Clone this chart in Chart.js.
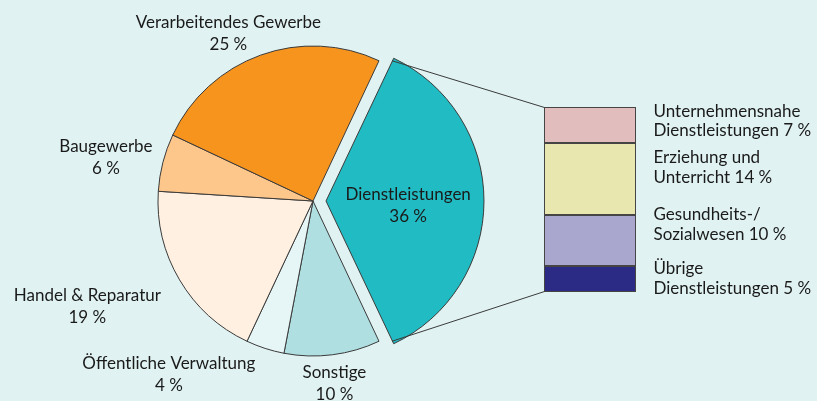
<!DOCTYPE html>
<html lang="de">
<head>
<meta charset="utf-8">
<script src="https://cdn.jsdelivr.net/npm/chart.js@4.4.1/dist/chart.umd.min.js"></script>
<style>
  html, body { margin: 0; padding: 0; background: #e0f2f2; }
  #wrap { position: relative; width: 817px; height: 401px; background: #e0f2f2; overflow: hidden; }
  #wrap canvas { position: absolute; left: 0; top: 0; }
</style>
</head>
<body>
<div id="wrap">
  <canvas id="pieChart" width="817" height="401"></canvas>
  <canvas id="barChart" width="817" height="401"></canvas>
</div>
<script>
// Anteile nach Wirtschaftsbereichen (Uhrzeigersinn, beginnend mit dem herausgezogenen Segment)
const sectors = ['Dienstleistungen', 'Sonstige', 'Öffentliche Verwaltung', 'Handel & Reparatur', 'Baugewerbe', 'Verarbeitendes Gewerbe'];
const sectorShares = [36, 10, 4, 19, 6, 25];
const sectorColors = ['#21bcc3', '#afdfe1', '#e6f5f5', '#fff0e1', '#fdc68a', '#f7941e'];

// Aufteilung der Dienstleistungen (von oben nach unten)
const services = [['Unternehmensnahe', 'Dienstleistungen'], ['Erziehung und', 'Unterricht'], ['Gesundheits-/', 'Sozialwesen'], ['Übrige', 'Dienstleistungen']];
const serviceShares = [7, 14, 10, 5];
const serviceColors = ['#e2bdbd', '#e8e7b0', '#aaa7cf', '#2b2a84'];

const FONT = '17px Lato';
const TEXT = '#1a1a1a';
const LINE = '#3a3a3a';

// small hand nudges so the labels sit where the original has them
const labelNudge = [[0, 0], [-3, 2], [-67, 0], [-22, 13], [-4, 2], [2, 4]];
const serviceLabelNudge = [-4, -11.5, -16, -0.5];

function pct(v) {
    return v + ' %';
}

const pieLabels = {
    id: 'pieLabels',
    afterDatasetsDraw(chart) {
        const ctx = chart.ctx;
        const arcs = chart.getDatasetMeta(0).data;
        ctx.save();
        ctx.font = FONT;
        ctx.fillStyle = TEXT;
        ctx.textAlign = 'center';
        ctx.textBaseline = 'middle';
        arcs.forEach((arc, i) => {
            const lines = [sectors[i], pct(sectorShares[i])];
            const mid = (arc.startAngle + arc.endAngle) / 2;
            const cos = Math.cos(mid);
            const sin = Math.sin(mid);
            let cx, cy;
            if (arc.options.offset) {
                const shift = arc.options.offset / 4;
                cx = arc.x + cos * (shift + arc.outerRadius * 0.53);
                cy = arc.y + sin * (shift + arc.outerRadius * 0.53) + 5;
            } else {
                const w = Math.max(...lines.map(l => ctx.measureText(l).width));
                const R = arc.outerRadius + 8;
                cx = arc.x + cos * R + cos * w / 2 + labelNudge[i][0];
                cy = arc.y + sin * R + sin * 19 + labelNudge[i][1];
            }
            ctx.fillText(lines[0], cx, cy - 11);
            ctx.fillText(lines[1], cx, cy + 11);
        });
        ctx.restore();
    }
};

const pieChart = new Chart(document.getElementById('pieChart'), {
    type: 'pie',
    data: {
        labels: sectors,
        datasets: [{
            data: sectorShares,
            backgroundColor: sectorColors,
            borderColor: LINE,
            borderWidth: 1,
            offset: sectorShares.map((v, i) => i === 0 ? 52 : 0)
        }]
    },
    options: {
        responsive: false,
        animation: false,
        events: [],
        rotation: 90 - sectorShares[0] * 3.6 / 2,
        radius: 155,
        layout: { padding: { left: 0, right: 191, top: 1, bottom: 0 } },
        plugins: {
            legend: { display: false },
            tooltip: { enabled: false }
        }
    },
    plugins: [pieLabels]
});

const barExtras = {
    id: 'barExtras',
    afterDatasetsDraw(chart) {
        const ctx = chart.ctx;
        const bars = chart.data.datasets.map((d, i) => chart.getDatasetMeta(i).data[0]);
        ctx.save();

        // outlines of the stacked segments
        ctx.strokeStyle = '#454545';
        ctx.lineWidth = 1;
        let top = Infinity, bottom = -Infinity, left = 0, right = 0;
        bars.forEach(b => {
            const l = Math.round(b.x - b.width / 2) + 0.5;
            const r = Math.round(b.x + b.width / 2) - 0.5;
            const t = Math.round(Math.min(b.y, b.base)) + 0.5;
            const btm = Math.round(Math.max(b.y, b.base)) - 0.5;
            ctx.strokeRect(l, t, r - l, btm - t);
            top = Math.min(top, t);
            bottom = Math.max(bottom, btm);
            left = l;
            right = r;
        });

        // connector lines from the exploded slice
        const arc = pieChart.getDatasetMeta(0).data[0];
        const mid = (arc.startAngle + arc.endAngle) / 2;
        const shift = arc.options.offset / 4;
        const ox = arc.x + Math.cos(mid) * shift;
        const oy = arc.y + Math.sin(mid) * shift;
        const r = arc.outerRadius;
        ctx.strokeStyle = LINE;
        ctx.beginPath();
        ctx.moveTo(ox + Math.cos(arc.startAngle) * r, oy + Math.sin(arc.startAngle) * r);
        ctx.lineTo(left, top);
        ctx.moveTo(ox + Math.cos(arc.endAngle) * r, oy + Math.sin(arc.endAngle) * r);
        ctx.lineTo(left, bottom);
        ctx.stroke();

        // labels right of the bar
        ctx.font = FONT;
        ctx.fillStyle = TEXT;
        ctx.textAlign = 'left';
        ctx.textBaseline = 'middle';
        bars.forEach((b, i) => {
            const cy = (b.y + b.base) / 2 + serviceLabelNudge[i];
            ctx.fillText(services[i][0], right + 18, cy - 9.75);
            ctx.fillText(services[i][1] + ' ' + pct(serviceShares[i]), right + 18, cy + 9.75);
        });
        ctx.restore();
    }
};

const barChart = new Chart(document.getElementById('barChart'), {
    type: 'bar',
    data: {
        labels: ['Dienstleistungen'],
        datasets: services.map((s, i) => ({
            label: s.join(' '),
            data: [serviceShares[i]],
            backgroundColor: serviceColors[i],
            borderWidth: 0,
            barPercentage: 1,
            categoryPercentage: 1
        }))
    },
    options: {
        responsive: false,
        animation: false,
        events: [],
        layout: { padding: { left: 544, right: 181, top: 107, bottom: 109 } },
        plugins: {
            legend: { display: false },
            tooltip: { enabled: false }
        },
        scales: {
            x: { display: false, stacked: true },
            y: { display: false, stacked: true, reverse: true, min: 0, max: serviceShares.reduce((a, b) => a + b, 0) }
        }
    },
    plugins: [barExtras]
});
</script>
</body>
</html>
